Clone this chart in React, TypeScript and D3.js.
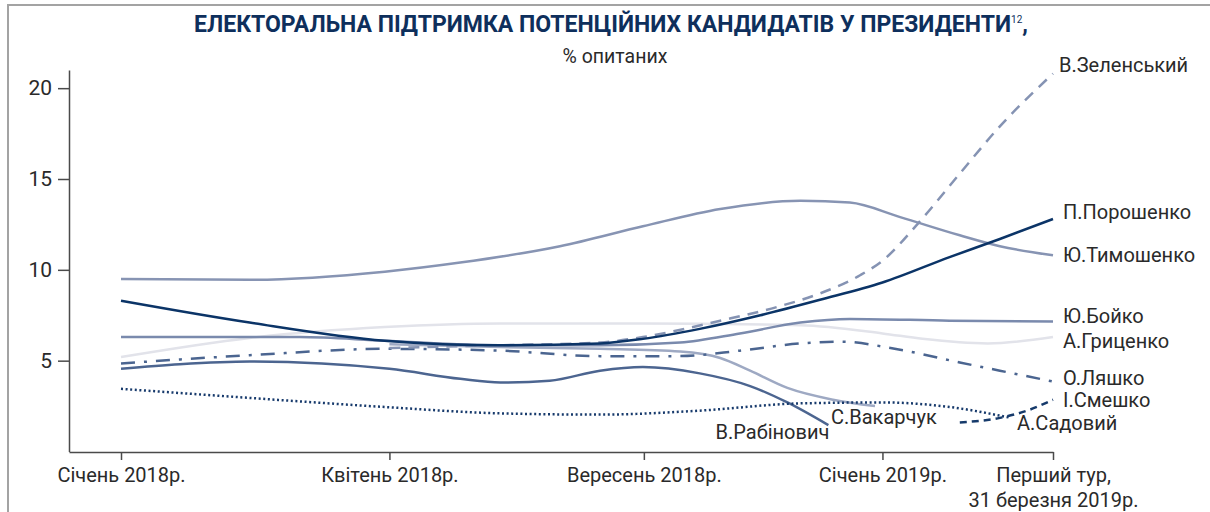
import React, { useEffect, useRef } from 'react';
import * as d3 from 'd3';

const width = 1210;
const height = 512;

// позиції хвиль опитування на шкалі 0..100 (від січня 2018 до першого туру)
const tickPositions = [0, 28.8, 56.1, 81.7, 100];
const tickLabels = [['Січень 2018р.'], ['Квітень 2018р.'], ['Вересень 2018р.'], ['Січень 2019р.'], ['Перший тур,', '31 березня 2019р.']];
const yTicks = [5, 10, 15, 20];

const poroshenko = [[0, 8.3], [13.8, 7.1], [28.3, 6.1], [40.7, 5.85], [51.4, 5.95], [56, 6.2], [62.1, 6.75], [68.6, 7.5], [75, 8.35], [81.7, 9.3], [88.9, 10.7], [94.3, 11.7], [100, 12.8]];
const tymoshenko = [[0, 9.5], [13.8, 9.45], [28.3, 9.9], [36.4, 10.4], [47.1, 11.3], [56, 12.4], [64.3, 13.35], [72.9, 13.8], [78.2, 13.7], [83.6, 12.9], [90, 11.9], [94.3, 11.3], [100, 10.8]];
const zelensky = [[28.8, 5.7], [40.7, 5.85], [51.4, 6.0], [56, 6.3], [64.3, 7.2], [70.7, 8.0], [75, 8.7], [79.3, 9.7], [81.7, 10.5], [85.6, 12.6], [90, 15.3], [94.3, 17.9], [100, 20.8]];
const boyko = [[0, 6.3], [19.2, 6.3], [28.3, 6.1], [40.7, 5.85], [51.4, 5.85], [60, 6.0], [66.4, 6.5], [72.9, 7.1], [78.2, 7.3], [88.9, 7.2], [100, 7.15]];
const hrytsenko = [[0, 5.2], [13.8, 6.25], [28.3, 6.85], [40.7, 7.05], [56, 7.05], [72.9, 6.95], [81.7, 6.5], [86, 6.2], [93, 5.95], [100, 6.3]];
const lyashko = [[0, 4.85], [13.8, 5.3], [28.3, 5.65], [40.7, 5.55], [51.4, 5.25], [60, 5.25], [66.4, 5.55], [72.9, 5.95], [77.1, 6.05], [83.6, 5.6], [90, 4.9], [94.3, 4.45], [100, 3.85]];
const sadovyi = [[0, 3.45], [13.8, 2.95], [28.3, 2.45], [40.7, 2.1], [51.4, 2.03], [62.1, 2.25], [72.9, 2.65], [81.7, 2.7], [88.9, 2.45], [95.5, 1.85]];
const rabinovych = [[0, 4.55], [6.3, 4.8], [13.8, 4.95], [28.8, 4.55], [36.4, 4.0], [40.7, 3.8], [46, 3.9], [51.4, 4.45], [56, 4.65], [62.1, 4.3], [67.5, 3.6], [71.5, 2.7], [75.9, 1.45]];
const vakarchuk = [[28.8, 5.9], [40.7, 5.75], [51.4, 5.65], [60, 5.5], [64.3, 5.15], [67.5, 4.45], [71.5, 3.5], [76.4, 2.85], [80.9, 2.5]];
const smeshko = [[90, 1.6], [94.3, 1.85], [97.5, 2.3], [100, 2.85]];

const series = [
  { name: 'А.Гриценко', data: hrytsenko, color: '#e2e3ea', dash: null, dx: 10, dy: 4, anchor: 'start' },
  { name: 'С.Вакарчук', data: vakarchuk, color: '#9ea9c3', dash: null, dx: -44, dy: 11, anchor: 'start' },
  { name: 'Ю.Бойко', data: boyko, color: '#7a8aad', dash: null, dx: 10, dy: -6, anchor: 'start' },
  { name: 'Ю.Тимошенко', data: tymoshenko, color: '#8794b3', dash: null, dx: 10, dy: 0, anchor: 'start' },
  { name: 'В.Рабінович', data: rabinovych, color: '#4c6590', dash: null, dx: 1, dy: 7, anchor: 'end' },
  { name: 'О.Ляшко', data: lyashko, color: '#4b6590', dash: '14,9,3,9', dx: 10, dy: -4, anchor: 'start' },
  { name: 'А.Садовий', data: sadovyi, color: '#173a6c', dash: '2,2.6', dx: 6, dy: 5, anchor: 'start' },
  { name: 'І.Смешко', data: smeshko, color: '#163a6b', dash: '7,5', dx: 10, dy: 0, anchor: 'start' },
  { name: 'В.Зеленський', data: zelensky, color: '#8593b3', dash: '11,8', dx: 6, dy: -9, anchor: 'start' },
  { name: 'П.Порошенко', data: poroshenko, color: '#0b3467', dash: null, dx: 10, dy: -7, anchor: 'start' },
];

const x = d3.scaleLinear().domain([-5.58, 100]).range([69, 1053]);
const y = d3.scaleLinear().domain([0, 21]).range([451.5, 70]);
const font = 'Roboto, "Liberation Sans", sans-serif';

const App = () => {
  const xAxisRef = useRef(null);
  const yAxisRef = useRef(null);

  useEffect(() => {
    const ya = d3.select(yAxisRef.current);
    ya.call(d3.axisLeft(y).tickValues(yTicks).tickSize(11).tickPadding(6).tickSizeOuter(0));
    ya.select('.domain').attr('stroke', '#4a4a4a').attr('stroke-width', 1.5);
    ya.selectAll('.tick line').attr('stroke', '#4a4a4a').attr('stroke-width', 1.5);
    ya.selectAll('.tick text').attr('fill', '#2a2a2a').style('font-size', '21px').style('font-family', font);

    const xa = d3.select(xAxisRef.current);
    xa.call(d3.axisBottom(x).tickValues(tickPositions).tickSize(8).tickPadding(8).tickSizeOuter(0).tickFormat(() => ''));
    xa.select('.domain').attr('stroke', '#4a4a4a').attr('stroke-width', 1.5);
    xa.selectAll('.tick line').attr('stroke', '#4a4a4a').attr('stroke-width', 1.5);
    xa.selectAll('.tick text')
      .attr('fill', '#2a2a2a')
      .style('font-size', '20px')
      .style('font-family', font)
      .each(function (_d, i) {
        const t = d3.select(this);
        t.selectAll('tspan').remove();
        tickLabels[i].forEach((s, j) => {
          t.append('tspan').attr('x', 0).attr('dy', j === 0 ? '0.71em' : '1.25em').text(s);
        });
      });
  }, []);

  const line = d3.line().x(d => x(d[0])).y(d => y(d[1])).curve(d3.curveMonotoneX);

  return (
    <div style={{ position: 'absolute', left: 0, top: 0 }}>
      <svg width={width} height={height} style={{ display: 'block', background: '#fff' }}>
        <path d={`M8,${height}V5H${width}`} fill="none" stroke="#a3a3a3" strokeWidth={2} />
        <text x={611} y={32} textAnchor="middle" fill="#0e2f5c" fontFamily={font} fontWeight="bold" fontSize={23}>
          ЕЛЕКТОРАЛЬНА ПІДТРИМКА ПОТЕНЦІЙНИХ КАНДИДАТІВ У ПРЕЗИДЕНТИ
          <tspan fontSize={10} fontWeight="normal" dy={-9}>12</tspan>
          <tspan dy={9}>,</tspan>
        </text>
        <text x={615} y={63} textAnchor="middle" fill="#2a2a2a" fontFamily={font} fontSize={19.5}>% опитаних</text>
        <g ref={yAxisRef} transform="translate(69,0)" />
        <g ref={xAxisRef} transform="translate(0,452)" />
        {series.map(s => (
          <path key={s.name} d={line(s.data)} fill="none" stroke={s.color} strokeWidth={2.5}
            strokeDasharray={s.dash || undefined} />
        ))}
        {series.map(s => {
          const last = s.data[s.data.length - 1];
          return (
            <text key={'l' + s.name} x={x(last[0]) + s.dx} y={y(last[1]) + s.dy} dy="0.35em"
              textAnchor={s.anchor} fill="#2a2a2a" fontFamily={font} fontSize={20}>{s.name}</text>
          );
        })}
      </svg>
    </div>
  );
};

export default App;
